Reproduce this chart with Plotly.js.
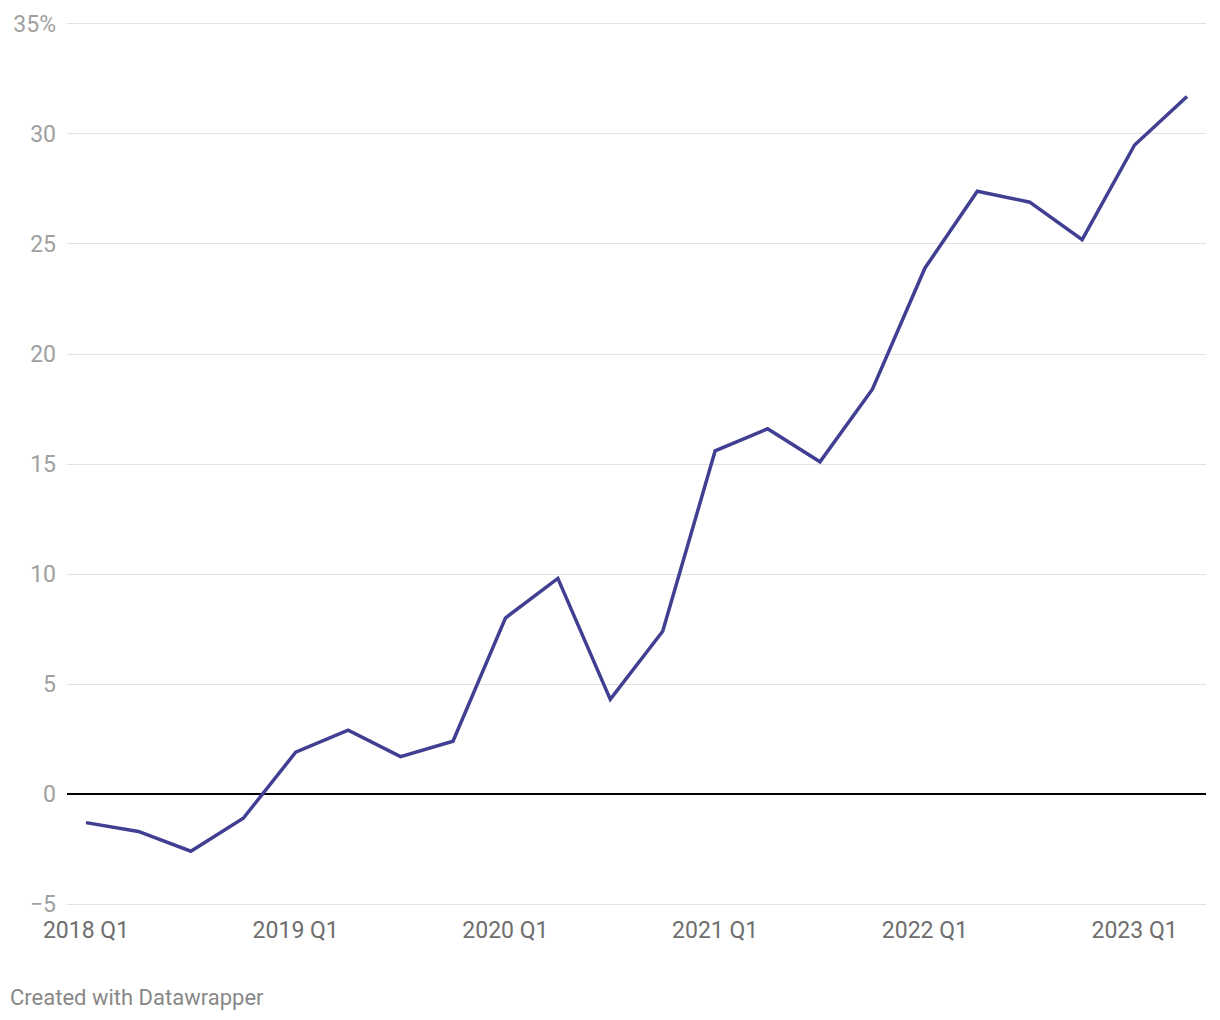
<!DOCTYPE html>
<html>
<head>
<meta charset="utf-8">
<script src="https://cdn.plot.ly/plotly-3.0.1.min.js"></script>
<style>
html,body{margin:0;padding:0;background:#fff;}
#chart{width:1220px;height:1020px;}
</style>
</head>
<body>
<div id="chart"></div>
<script>
const quarters = ["2018 Q1","2018 Q2","2018 Q3","2018 Q4","2019 Q1","2019 Q2","2019 Q3","2019 Q4","2020 Q1","2020 Q2","2020 Q3","2020 Q4","2021 Q1","2021 Q2","2021 Q3","2021 Q4","2022 Q1","2022 Q2","2022 Q3","2022 Q4","2023 Q1","2023 Q2"];
const values = [-1.3,-1.7,-2.6,-1.1,1.9,2.9,1.7,2.4,8.0,9.8,4.3,7.4,15.6,16.6,15.1,18.4,23.9,27.4,26.9,25.2,29.5,31.7];
const xTickLabels = ["2018 Q1","2019 Q1","2020 Q1","2021 Q1","2022 Q1","2023 Q1"];
const yTickValues = [-5,0,5,10,15,20,25,30,35];
const yTickLabels = ["\u22125","0","5","10","15","20","25","30","35%"];

const xIdx = quarters.map((q,i)=>i);
const xTickVals = xTickLabels.map(l=>quarters.indexOf(l));

const trace = {
  x: xIdx, y: values, type:'scatter', mode:'lines',
  line:{color:'#403f91', width:3.5},
  text: quarters, hoverinfo:'text+y'
};

const layout = {
  width:1220, height:1020,
  margin:{l:67, r:14, t:22, b:114},
  paper_bgcolor:'#fff', plot_bgcolor:'#fff',
  showlegend:false,
  font:{family:'Roboto, sans-serif'},
  xaxis:{
    range:[-0.362, 21.362],
    tickvals:xTickVals, ticktext:xTickLabels,
    showgrid:false, zeroline:false, showline:false, ticks:'',
    tickfont:{size:23, color:'#6e6e6e'},
    ticklabelstandoff:8
  },
  yaxis:{
    range:[-5.09, 35.09],
    tickvals:yTickValues, ticktext:yTickLabels,
    showgrid:true, gridcolor:'#e2e2e2', gridwidth:1,
    zeroline:true, zerolinecolor:'#000', zerolinewidth:1.5,
    showline:false, ticks:'',
    tickfont:{size:23, color:'#a0a0a0'},
    ticklabelstandoff:10
  },
  annotations:[{
    text:'Created with Datawrapper', xref:'paper', yref:'paper',
    x:-59/1139, y:-(997-906)/884, xanchor:'left', yanchor:'middle',
    showarrow:false, font:{size:22, color:'#888888', family:'Roboto, sans-serif'}
  }]
};

Plotly.newPlot('chart',[trace],layout,{displayModeBar:false, staticPlot:true});
</script>
</body>
</html>
